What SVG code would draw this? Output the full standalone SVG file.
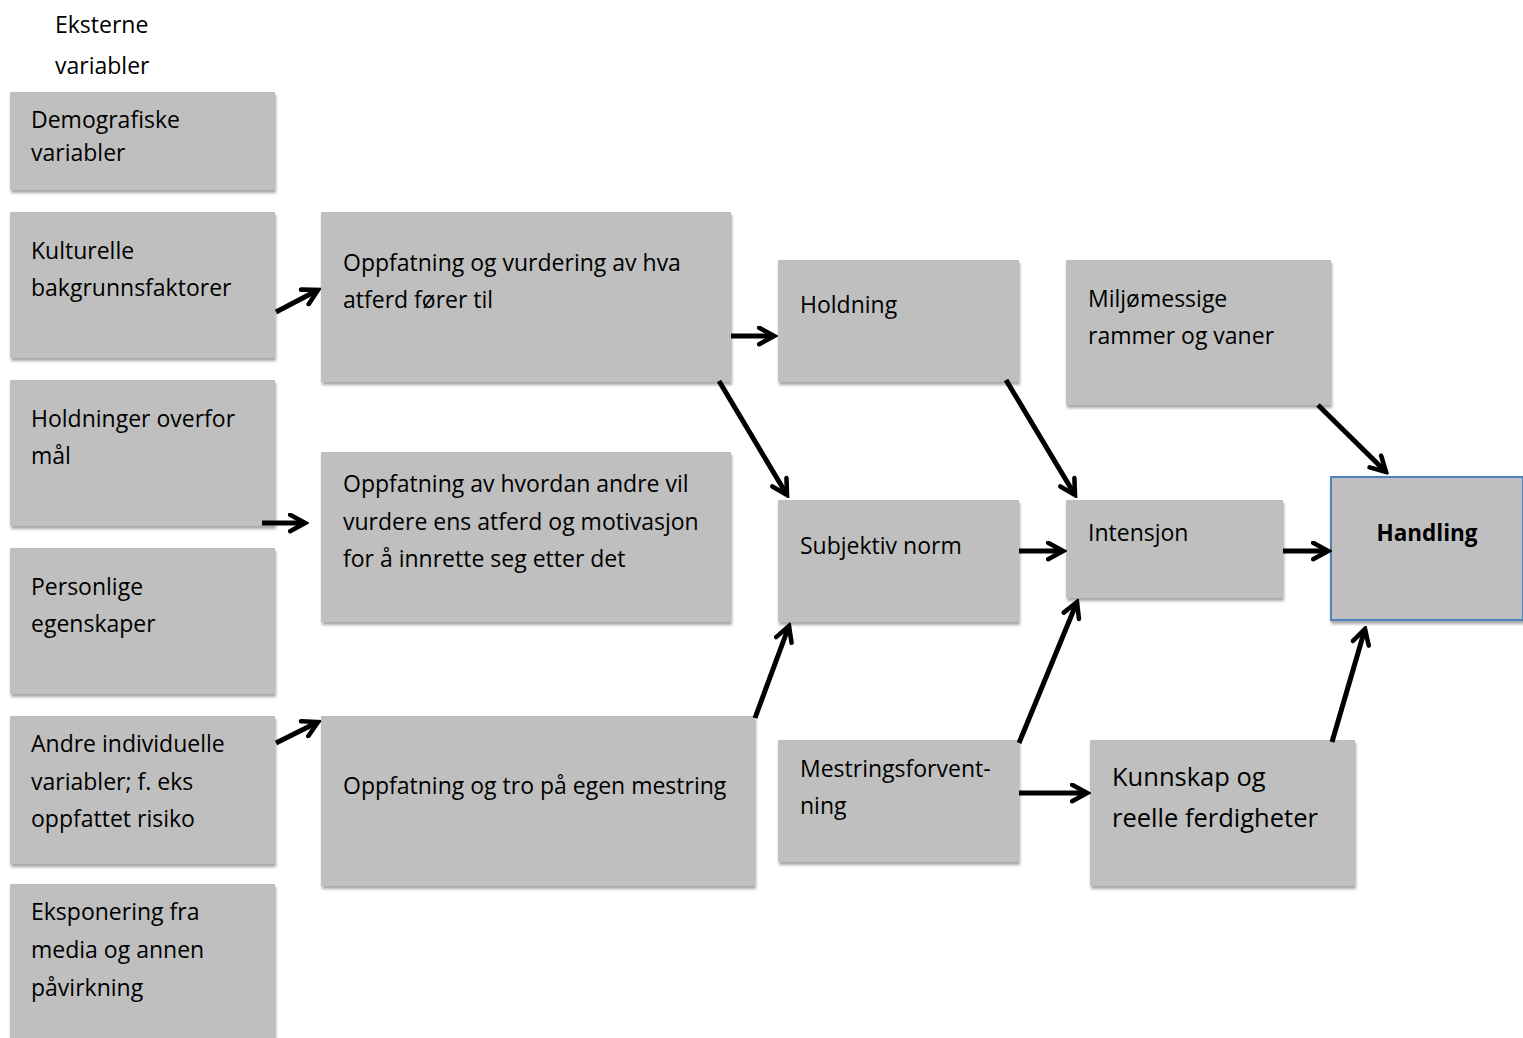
<svg xmlns="http://www.w3.org/2000/svg" width="1523" height="1038" viewBox="0 0 1523 1038">
<style>
.box{fill:#bfbfbf;filter:url(#sh);}
.t{font-family:"Open Sans","Noto Sans","Liberation Sans",sans-serif;font-size:23px;fill:#000;}
.b{font-weight:bold;}
.c{stroke:#000;stroke-width:5;fill:none;marker-end:url(#ah);}
</style>
<defs>
<filter id="sh" x="-5%" y="-5%" width="115%" height="120%">
<feDropShadow dx="1" dy="3" stdDeviation="1.5" flood-color="#000" flood-opacity="0.35"/>
</filter>
<marker id="ah" viewBox="0 0 12 12" refX="10" refY="6" markerWidth="4.2" markerHeight="4.2" orient="auto" markerUnits="strokeWidth">
<path d="M1.5,1.3 L10,6 L1.5,10.7" fill="none" stroke="#000" stroke-width="2.6" stroke-linecap="round" stroke-linejoin="miter"/>
</marker>
</defs>
<rect width="1523" height="1038" fill="#fff"/>
<g id="title">
<text class="t" x="55" y="33">Eksterne</text>
<text class="t" x="55" y="74">variabler</text>
</g>
<g id="demografiske">
<rect class="box" x="10" y="92" width="265" height="98"/>
<text class="t" x="31" y="128">Demografiske</text>
<text class="t" x="31" y="161">variabler</text>
</g>
<g id="kulturelle">
<rect class="box" x="10" y="212" width="265" height="146"/>
<text class="t" x="31" y="259">Kulturelle</text>
<text class="t" x="31" y="296">bakgrunnsfaktorer</text>
</g>
<g id="holdninger">
<rect class="box" x="10" y="380" width="265" height="146"/>
<text class="t" x="31" y="427">Holdninger overfor</text>
<text class="t" x="31" y="464">mål</text>
</g>
<g id="personlige">
<rect class="box" x="10" y="548" width="265" height="146"/>
<text class="t" x="31" y="595">Personlige</text>
<text class="t" x="31" y="632">egenskaper</text>
</g>
<g id="andre">
<rect class="box" x="10" y="716" width="265" height="148"/>
<text class="t" x="31" y="752">Andre individuelle</text>
<text class="t" x="31" y="790">variabler; f. eks</text>
<text class="t" x="31" y="827">oppfattet risiko</text>
</g>
<g id="eksponering">
<rect class="box" x="10" y="884" width="265" height="160"/>
<text class="t" x="31" y="920">Eksponering fra</text>
<text class="t" x="31" y="958">media og annen</text>
<text class="t" x="31" y="996">påvirkning</text>
</g>
<g id="oppfatning-vurdering">
<rect class="box" x="321" y="212" width="410" height="170"/>
<text class="t" x="343" y="271">Oppfatning og vurdering av hva</text>
<text class="t" x="343" y="308">atferd fører til</text>
</g>
<g id="oppfatning-andre">
<rect class="box" x="321" y="452" width="410" height="170"/>
<text class="t" x="343" y="492">Oppfatning av hvordan andre vil</text>
<text class="t" x="343" y="530">vurdere ens atferd og motivasjon</text>
<text class="t" x="343" y="567">for å innrette seg etter det</text>
</g>
<g id="oppfatning-mestring">
<rect class="box" x="321" y="716" width="434" height="170"/>
<text class="t" x="343" y="794">Oppfatning og tro på egen mestring</text>
</g>
<g id="holdning">
<rect class="box" x="778" y="260" width="241" height="122"/>
<text class="t" x="800" y="313">Holdning</text>
</g>
<g id="subjektiv-norm">
<rect class="box" x="778" y="500" width="241" height="122"/>
<text class="t" x="800" y="554">Subjektiv norm</text>
</g>
<g id="mestringsforventning">
<rect class="box" x="778" y="740" width="241" height="122"/>
<text class="t" x="800" y="777">Mestringsforvent-</text>
<text class="t" x="800" y="814">ning</text>
</g>
<g id="miljomessige">
<rect class="box" x="1066" y="260" width="265" height="145"/>
<text class="t" x="1088" y="307">Miljømessige</text>
<text class="t" x="1088" y="344">rammer og vaner</text>
</g>
<g id="intensjon">
<rect class="box" x="1066" y="500" width="217" height="98"/>
<text class="t" x="1088" y="541">Intensjon</text>
</g>
<g id="kunnskap">
<rect class="box" x="1090" y="740" width="265" height="146"/>
<text class="t" x="1112" y="786" style="font-size:25.5px">Kunnskap og</text>
<text class="t" x="1112" y="827" style="font-size:25.5px">reelle ferdigheter</text>
</g>
<g id="handling">
<rect x="1331" y="477" width="192" height="143" fill="#bfbfbf" stroke="#4f81bd" stroke-width="2" filter="url(#sh)"/>
<text class="t b" x="1427" y="541" text-anchor="middle" style="font-size:22.5px">Handling</text>
</g>
<g id="connectors">
<line class="c" x1="276" y1="312" x2="318" y2="290"/>
<line class="c" x1="262" y1="523" x2="305" y2="523"/>
<line class="c" x1="276" y1="743" x2="318" y2="722"/>
<line class="c" x1="731" y1="336" x2="774" y2="336"/>
<line class="c" x1="719" y1="381" x2="787" y2="495"/>
<line class="c" x1="755" y1="718" x2="789" y2="626"/>
<line class="c" x1="1006" y1="380" x2="1075" y2="495"/>
<line class="c" x1="1019" y1="551" x2="1063" y2="551"/>
<line class="c" x1="1019" y1="743" x2="1077" y2="602"/>
<line class="c" x1="1019" y1="793" x2="1087" y2="793"/>
<line class="c" x1="1318" y1="405" x2="1386" y2="472"/>
<line class="c" x1="1283" y1="551" x2="1328" y2="551"/>
<line class="c" x1="1332" y1="742" x2="1365" y2="629"/>
</g>
</svg>
